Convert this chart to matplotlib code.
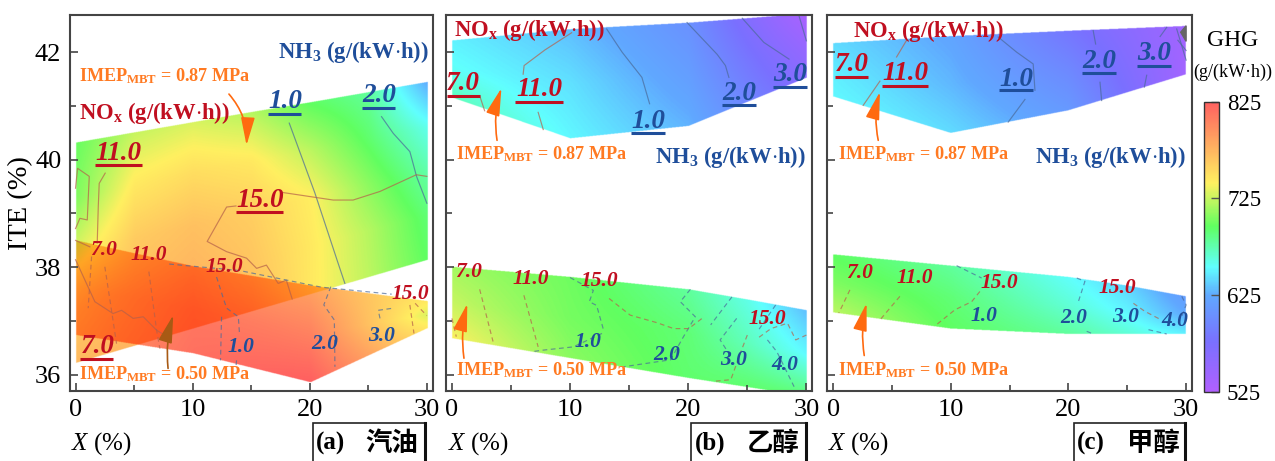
import numpy as np
import matplotlib
matplotlib.use('Agg')
import matplotlib.pyplot as plt
from matplotlib.colors import LinearSegmentedColormap, Normalize
from matplotlib.cm import ScalarMappable
from matplotlib.lines import Line2D
from matplotlib.patches import Rectangle

plt.rcParams['font.family'] = ['Liberation Serif', 'Noto Sans CJK SC', 'DejaVu Sans']
plt.rcParams['mathtext.fontset'] = 'custom'
plt.rcParams['mathtext.rm'] = 'Liberation Serif'
plt.rcParams['mathtext.bf'] = 'Liberation Serif:bold'
plt.rcParams['mathtext.it'] = 'Liberation Serif:italic'

W, H = 1275, 461
GHG_MIN, GHG_MAX = 525, 825

# ---- panel (a) gasoline ----
A_HI_X = [0, 5, 10, 15, 20, 25, 30]
A_HI_UP = [40.32, 40.51, 40.70, 40.89, 41.07, 41.26, 41.45]
A_HI_LO = [36.22, 36.54, 36.86, 37.18, 37.50, 37.82, 38.14]
A_HI_GHG = [
    [772, 775, 778, 770, 745, 722, 695],
    [762, 770, 775, 765, 745, 720, 690],
    [732, 762, 768, 760, 742, 708, 676],
    [705, 745, 752, 745, 722, 692, 658],
    [698, 725, 730, 720, 695, 680, 625],
]
A_LO_X = [0, 10, 20, 30]
A_LO_UP = [38.50, 38.02, 37.66, 37.37]
A_LO_LO = [36.74, 36.40, 35.86, 36.87]
A_LO_GHG = [
    [790, 815, 825, 745],
    [785, 810, 805, 730],
    [770, 795, 785, 745],
]
A_SOLID_NH3 = [
    ([18.25, 20.44, 22.43, 23.0], [40.68, 39.38, 38.07, 37.7]),
    ([26.13, 27.13, 28.55, 29.12, 30.0], [40.80, 40.49, 40.15, 39.69, 39.19]),
]
A_SOLID_NOX = [
    ([17.7, 22.0, 23.7, 26.0, 29.1, 30.0], [39.39, 39.25, 39.25, 39.41, 39.72, 39.69]),
    ([13.7, 12.9, 11.24, 12.9, 14.6, 15.46, 16.3, 17.3, 18.0, 18.5],
     [39.14, 39.12, 38.48, 38.29, 38.17, 37.98, 38.04, 37.7, 37.76, 37.41]),
    ([0.0, 1.65, 3.2, 3.93, 4.92, 5.78, 6.92, 7.6], [38.14, 37.36, 37.14, 37.2, 37.05, 37.08, 36.83, 36.74]),
    ([2.53, 2.02, 1.94, 1.85], [39.75, 39.56, 39.13, 38.45]),
    ([0.0, 0.17, 1.17, 1.0, 0.37, 0.0], [39.47, 39.84, 39.69, 38.88, 38.91, 38.72]),
    ([0.0, 1.22], [38.5, 38.38]),
]
A_DASH_NH3 = [
    ([8.0, 14.0, 21.0, 27.0], [38.06, 37.94, 37.63, 37.5]),
    ([12.04, 12.67, 12.9, 13.9, 14.0], [37.82, 37.39, 37.24, 37.08, 36.77]),
    ([12.47, 12.38], [37.08, 36.27]),
    ([13.75, 13.7], [36.27, 36.15]),
    ([21.8, 21.2, 22.1, 22.15], [37.64, 37.3, 37.02, 36.15]),
    ([26.0, 25.85, 27.13], [37.05, 37.2, 37.24]),
]
A_DASH_NOX = [
    ([1.37, 1.08], [38.2, 37.24]),
    ([2.5, 3.07, 3.5], [38.01, 37.2, 36.58]),
    ([6.26, 6.92, 7.2], [37.92, 36.83, 36.49]),
    ([28.55, 28.9], [37.3, 36.77]),
    ([29.0, 30.0], [37.33, 37.1]),
]

# ---- panel (b) ethanol ----
B_HI_X = [0, 10, 20, 30]
B_HI_UP = [42.22, 42.43, 42.55, 42.72]
B_HI_LO = [41.16, 40.40, 40.63, 41.53]
B_HI_GHG = [
    [672, 652, 628, 562],
    [656, 644, 616, 548],
    [650, 632, 605, 530],
]
B_LO_X = [0, 10, 20, 25, 30]
B_LO_UP = [38.01, 37.82, 37.59, 37.40, 37.20]
B_LO_LO = [36.68, 36.31, 35.94, 35.77, 35.60]
B_LO_GHG = [
    [740, 708, 692, 692, 690],
    [725, 702, 690, 672, 652],
    [715, 700, 680, 660, 632],
]
B_SOLID_NH3 = [
    ([13.1, 14.4, 16.08, 16.73], [42.43, 42.0, 41.53, 41.04]),
    ([19.9, 22.44, 23.15, 23.44], [42.55, 41.96, 41.75, 41.53]),
    ([24.57, 26.4, 28.53], [42.63, 42.18, 41.87]),
    ([29.38, 30.0], [42.67, 42.21]),
]
B_SOLID_NOX = [
    ([10.13, 7.87, 6.11, 6.03], [42.36, 42.04, 41.75, 41.59]),
    ([7.3, 7.73], [40.88, 40.56]),
    ([2.35, 2.77], [41.19, 40.91]),
]
B_DASH_NH3 = [
    ([10.0, 11.97, 11.63, 12.25, 12.8], [37.81, 37.57, 37.36, 37.29, 36.86]),
    ([12.7, 10.27, 7.73, 6.74], [36.77, 36.52, 36.46, 36.43]),
    ([20.18, 19.33, 20.6, 19.6, 18.5, 14.5], [37.59, 37.36, 37.08, 36.71, 36.28, 36.15]),
    ([23.7, 21.9], [37.45, 36.93]),
    ([24.1, 22.7, 23.6], [37.05, 36.65, 36.34]),
    ([27.4, 26.0], [37.3, 36.85]),
    ([26.7, 27.5, 28.96], [36.65, 36.43, 35.78]),
]
B_DASH_NOX = [
    ([2.35, 3.48], [37.59, 36.62]),
    ([0.0, 0.37], [37.05, 36.71]),
    ([6.09, 7.3], [37.48, 36.52]),
    ([13.3, 15.09, 17.35, 18.77, 20.04, 21.17], [37.42, 37.11, 36.97, 36.86, 36.86, 37.05]),
    ([25.0, 24.4, 24.0, 23.6, 22.16], [36.74, 36.4, 36.15, 35.91, 35.88]),
    ([26.0, 27.0, 28.4, 29.1, 30.0], [36.7, 36.86, 36.96, 36.65, 36.74]),
]

# ---- panel (c) methanol ----
C_HI_X = [0, 10, 20, 30]
C_HI_UP = [42.17, 42.30, 42.40, 42.49]
C_HI_LO = [41.18, 40.50, 40.92, 41.59]
C_HI_GHG = [
    [652, 642, 612, 538],
    [648, 630, 598, 538],
    [642, 622, 582, 540],
]
C_LO_X = [0, 10, 20, 25, 30]
C_LO_UP = [38.24, 38.03, 37.82, 37.66, 37.46]
C_LO_LO = [37.16, 36.86, 36.76, 36.76, 36.76]
C_LO_GHG = [
    [722, 695, 680, 665, 650],
    [705, 690, 665, 650, 625],
    [695, 680, 655, 640, 615],
]
C_SOLID_NH3 = [
    ([14.03, 15.59, 17.0, 17.15], [42.28, 42.0, 41.78, 41.29]),
    ([16.3, 14.88], [41.12, 40.7]),
    ([22.1, 22.31], [42.4, 42.15]),
    ([22.68, 22.82], [41.44, 41.1]),
    ([26.65, 26.45], [41.57, 41.35]),
    ([27.79, 28.35], [42.29, 42.46]),
    ([29.2, 30.0], [42.43, 41.85]),
    ([29.3, 30.0], [42.22, 42.03]),
]
C_SOLID_NOX = [
    ([6.24, 5.39], [42.22, 41.91]),
    ([3.97, 2.55], [41.46, 41.01]),
]
C_DASH_NH3 = [
    ([10.49, 12.62], [38.03, 37.8]),
    ([20.7, 21.4, 20.84], [37.8, 37.74, 37.36]),
    ([21.55, 22.1], [36.81, 36.76]),
    ([26.8, 28.35], [36.84, 36.76]),
    ([29.63, 30.0, 29.63], [37.46, 37.3, 37.09]),
]
C_DASH_NOX = [
    ([1.42, 0.48], [37.58, 37.15]),
    ([5.67, 4.05], [37.46, 37.04]),
    ([12.47, 11.77, 10.35, 8.65], [37.55, 37.36, 37.21, 36.91]),
    ([25.52, 26.5, 27.9], [37.33, 37.18, 37.02]),
]
C_CORNER_X = [29.54, 30.0, 30.0]
C_CORNER_Y = [42.37, 42.49, 42.2]

CBAR_TICKS = [525, 625, 725, 825]
X_TICKS = [0, 10, 20, 30]
Y_TICKS = [36, 38, 40, 42]

RED = '#C00F20'
BLUE = '#1F4E9A'
ORANGE = '#FF7A22'
ARROW = '#FF6A10'
SPINE = '#444444'

cmap = LinearSegmentedColormap.from_list('ghg', [
    (0.0, '#B060FF'), (0.17, '#7A70FF'), (0.33, '#60A8FF'), (0.43, '#60FFFF'),
    (0.57, '#60FF60'), (0.72, '#FFF060'), (0.86, '#FFA860'), (1.0, '#FF6060')])
norm = Normalize(GHG_MIN, GHG_MAX)


def layer(gx, gy, xs, lo, up, rows):
    # ghg colour of one load region on the picture grid, white outside it
    rows = np.array(rows, dtype=float)
    low = np.interp(gx, xs, lo)
    upp = np.interp(gx, xs, up)
    t = (gy[:, None] - low[None, :]) / (upp - low)[None, :]
    inside = (t >= 0) & (t <= 1) & (gx[None, :] >= 0) & (gx[None, :] <= 30)
    n = len(rows)
    across = np.array([np.interp(gx, xs, r) for r in rows])
    pos = np.clip(t, 0, 1) * (n - 1)
    idx = np.clip(np.floor(pos).astype(int), 0, n - 2)
    f = pos - idx
    col = np.arange(len(gx))[None, :].repeat(len(gy), axis=0)
    val = across[idx, col] * (1 - f) + across[idx + 1, col] * f
    rgb = cmap(norm(val))[..., :3]
    rgb[~inside] = 1.0
    return rgb


def fill_panel(ax, hi, lo):
    gx = np.linspace(-0.5, 30.5, 1000)
    gy = np.linspace(35.7, 42.69, 1000)
    img = layer(gx, gy, *hi) * layer(gx, gy, *lo)
    ax.imshow(img, origin='lower', extent=(-0.5, 30.5, 35.7, 42.69), aspect='auto',
              interpolation='bilinear', zorder=1)


def lines(ax, groups, colour, dashed=False):
    for xs, ys in groups:
        ax.plot(xs, ys, color=colour, lw=0.85, alpha=0.7, ls=(0, (4, 3)) if dashed else '-', zorder=2)


def big_label(ax, s, x, y, x0, x1, yl, colour):
    ax.text(x, y, s, color=colour, fontsize=19.5, fontweight='bold', fontstyle='italic',
            ha='center', va='center', zorder=5, clip_on=False)
    ax.plot([x0, x1], [yl, yl], color=colour, lw=2.2, zorder=5, clip_on=False, solid_capstyle='butt')


def small_label(ax, s, x, y, colour):
    ax.text(x, y, s, color=colour, fontsize=15.5, fontweight='bold', fontstyle='italic',
            ha='center', va='center', zorder=5)


def head_text(ax, s, x, y, colour, size=16.3):
    ax.text(x, y, s, color=colour, fontsize=size, fontweight='bold', ha='left', va='center', zorder=6)


def arrow(ax, tail, head, rad=0.12, colour=ARROW):
    ax.annotate('', xy=head, xytext=tail, zorder=6,
                arrowprops=dict(arrowstyle='-|>,head_length=1.0,head_width=0.25', color=colour, lw=1.2,
                                connectionstyle='arc3,rad=%s' % rad, shrinkA=0, shrinkB=0,
                                mutation_scale=17))


fig = plt.figure(figsize=(W / 100, H / 100), dpi=100)
boxes = [(69.7, 432.7), (446.0, 812.3), (827.3, 1192.0)]
axes = []
for left, right in boxes:
    ax = fig.add_axes([left / W, (H - 391) / H, (right - left) / W, 376 / H])
    ax.set_xlim(-0.5, 30.5)
    ax.set_ylim(35.7, 42.69)
    ax.set_xticks(X_TICKS)
    ax.set_xticks([5, 15, 25], minor=True)
    ax.set_yticks(Y_TICKS)
    ax.set_yticks([37, 39, 41], minor=True)
    ax.tick_params(which='major', direction='in', length=6, width=1.2, color=SPINE, labelsize=19, pad=6)
    ax.tick_params(which='minor', direction='in', length=4, width=1.2, color=SPINE)
    for s in ax.spines.values():
        s.set_color(SPINE)
        s.set_linewidth(1.5)
    axes.append(ax)
ax_a, ax_b, ax_c = axes
ax_b.set_yticklabels([])
ax_c.set_yticklabels([])

fill_panel(ax_a, (A_HI_X, A_HI_LO, A_HI_UP, A_HI_GHG), (A_LO_X, A_LO_LO, A_LO_UP, A_LO_GHG))
fill_panel(ax_b, (B_HI_X, B_HI_LO, B_HI_UP, B_HI_GHG), (B_LO_X, B_LO_LO, B_LO_UP, B_LO_GHG))
fill_panel(ax_c, (C_HI_X, C_HI_LO, C_HI_UP, C_HI_GHG), (C_LO_X, C_LO_LO, C_LO_UP, C_LO_GHG))

NH3_SOLID = '#4A6A9A'
NOX_SOLID = '#B5604A'
for ax, sn, so, dn, do in [(ax_a, A_SOLID_NH3, A_SOLID_NOX, A_DASH_NH3, A_DASH_NOX),
                           (ax_b, B_SOLID_NH3, B_SOLID_NOX, B_DASH_NH3, B_DASH_NOX),
                           (ax_c, C_SOLID_NH3, C_SOLID_NOX, C_DASH_NH3, C_DASH_NOX)]:
    lines(ax, sn, NH3_SOLID)
    lines(ax, so, NOX_SOLID)
    lines(ax, dn, NH3_SOLID, dashed=True)
    lines(ax, do, NOX_SOLID, dashed=True)
ax_c.fill(C_CORNER_X, C_CORNER_Y, color='#666666', zorder=2)

NH3_TXT = r'NH$_{\mathbf{3}}$ (g/(kW$\mathbf{\cdot}$h))'
NOX_TXT = r'NO$_{\mathbf{x}}$ (g/(kW$\mathbf{\cdot}$h))'
IMEP_HI = r'IMEP$_{\mathbf{MBT}}$ = 0.87 MPa'
IMEP_LO = r'IMEP$_{\mathbf{MBT}}$ = 0.50 MPa'

# panel a text
head_text(ax_a, NH3_TXT, 17.3, 42.0, BLUE)
head_text(ax_a, NOX_TXT, 0.31, 40.86, RED)
head_text(ax_a, IMEP_HI, 0.31, 41.56, ORANGE, 13.1)
head_text(ax_a, IMEP_LO, 0.31, 36.01, ORANGE, 13.1)
arrow(ax_a, (13.1, 41.22), (14.6, 40.27), rad=-0.2)
arrow(ax_a, (7.9, 36.12), (8.34, 37.11), rad=-0.1, colour='#A85A14')
big_label(ax_a, '1.0', 17.88, 41.08, 16.4, 19.25, 40.85, BLUE)
big_label(ax_a, '2.0', 25.9, 41.19, 24.42, 27.27, 40.96, BLUE)
big_label(ax_a, '11.0', 3.7, 40.12, 1.65, 5.69, 39.9, RED)
big_label(ax_a, '15.0', 15.74, 39.25, 13.69, 17.73, 39.03, RED)
big_label(ax_a, '7.0', 1.88, 36.52, 0.37, 3.22, 36.29, RED)
for s, x, y in [('7.0', 2.36, 38.32), ('11.0', 6.29, 38.23), ('15.0', 12.67, 38.01), ('15.0', 28.55, 37.51)]:
    small_label(ax_a, s, x, y, RED)
for s, x, y in [('1.0', 14.12, 36.52), ('2.0', 21.3, 36.58), ('3.0', 26.1, 36.72)]:
    small_label(ax_a, s, x, y, BLUE)

# panel b text
head_text(ax_b, NOX_TXT, 0.14, 42.41, RED)
head_text(ax_b, NH3_TXT, 17.2, 40.05, BLUE)
head_text(ax_b, IMEP_HI, 0.37, 40.11, ORANGE, 13.1)
head_text(ax_b, IMEP_LO, 0.37, 36.09, ORANGE, 13.1)
arrow(ax_b, (3.82, 40.36), (4.19, 41.33), rad=-0.12)
arrow(ax_b, (1.02, 36.31), (1.3, 37.32), rad=-0.1)
big_label(ax_b, '7.0', 0.93, 41.42, -0.42, 2.35, 41.19, RED)
big_label(ax_b, '11.0', 7.39, 41.3, 5.38, 9.37, 41.07, RED)
big_label(ax_b, '1.0', 16.64, 40.71, 15.17, 18.0, 40.5, BLUE)
big_label(ax_b, '2.0', 24.3, 41.23, 22.87, 25.7, 41.02, BLUE)
big_label(ax_b, '3.0', 28.6, 41.58, 27.2, 30.09, 41.36, BLUE)
for s, x, y in [('7.0', 1.44, 37.91), ('11.0', 6.68, 37.79), ('15.0', 12.48, 37.74), ('15.0', 26.69, 37.03)]:
    small_label(ax_b, s, x, y, RED)
for s, x, y in [('1.0', 11.49, 36.62), ('2.0', 18.2, 36.37), ('3.0', 23.86, 36.28), ('4.0', 28.19, 36.18)]:
    small_label(ax_b, s, x, y, BLUE)

# panel c text
head_text(ax_c, NOX_TXT, 1.7, 42.40, RED)
head_text(ax_c, NH3_TXT, 17.15, 40.05, BLUE)
head_text(ax_c, IMEP_HI, 0.37, 40.11, ORANGE, 13.1)
head_text(ax_c, IMEP_LO, 0.37, 36.08, ORANGE, 13.1)
arrow(ax_c, (3.83, 40.36), (3.97, 41.26), rad=-0.12)
arrow(ax_c, (2.64, 36.36), (2.84, 37.33), rad=-0.1)
big_label(ax_c, '7.0', 1.56, 41.77, 0.14, 2.98, 41.54, RED)
big_label(ax_c, '11.0', 6.15, 41.61, 4.11, 8.08, 41.37, RED)
big_label(ax_c, '1.0', 15.59, 41.5, 14.09, 16.98, 41.29, BLUE)
big_label(ax_c, '2.0', 22.6, 41.83, 21.12, 24.01, 41.61, BLUE)
big_label(ax_c, '3.0', 27.28, 41.98, 25.8, 28.69, 41.74, BLUE)
for s, x, y in [('7.0', 2.27, 37.9), ('11.0', 6.95, 37.8), ('15.0', 14.12, 37.7), ('15.0', 24.18, 37.61)]:
    small_label(ax_c, s, x, y, RED)
for s, x, y in [('1.0', 12.84, 37.1), ('2.0', 20.41, 37.06), ('3.0', 24.89, 37.07), ('4.0', 29.06, 37.01)]:
    small_label(ax_c, s, x, y, BLUE)


def px_text(px, py, s, **kw):
    return fig.text(px / W, 1 - py / H, s, **kw)


px_text(21, 203, 'ITE (%)', fontsize=20.5, rotation=90, ha='center', va='center')

# X (%) under each panel, and the boxed panel names
for px in [71, 448, 828]:
    px_text(px, 444, r'$\mathit{X}$ (%)', fontsize=18, ha='left', va='center')

names = [('(a)', '汽油', 312.7, 425.0, 316, 365),
         ('(b)', '乙醇', 690.7, 805.7, 695, 747),
         ('(c)', '甲醇', 1074.0, 1185.0, 1077, 1127)]
for tag, name, x0, x1, xtag, xname in names:
    fig.add_artist(Rectangle((x0 / W, 1 - 470 / H), (x1 - x0) / W, 47 / H, transform=fig.transFigure,
                             fill=False, ec='#222222', lw=1.2))
    fig.add_artist(Line2D([x1 / W, x1 / W], [0, 1 - 423 / H], color='#111111', lw=2.2))
    px_text(xtag, 443, tag, fontsize=18, fontweight='bold', ha='left', va='center')
    px_text(xname, 443, name, fontsize=19, fontweight='bold', ha='left', va='center',
            family=['Noto Sans CJK SC', 'DejaVu Sans'])

# colour bar
cax = fig.add_axes([1203.7 / W, (H - 391.7) / H, 15 / W, 290 / H])
cb = fig.colorbar(ScalarMappable(norm=norm, cmap=cmap), cax=cax, ticks=CBAR_TICKS)
cb.outline.set_edgecolor('#333333')
cb.outline.set_linewidth(1.0)
cax.tick_params(direction='in', length=6, width=1.0, color='#555555', labelsize=16.5, pad=6)
px_text(1233, 41, 'GHG', fontsize=17, ha='center', va='center')
px_text(1233, 72, '(g/(kW·h))', fontsize=13, ha='center', va='center')

fig.savefig('out.png', dpi=100)
